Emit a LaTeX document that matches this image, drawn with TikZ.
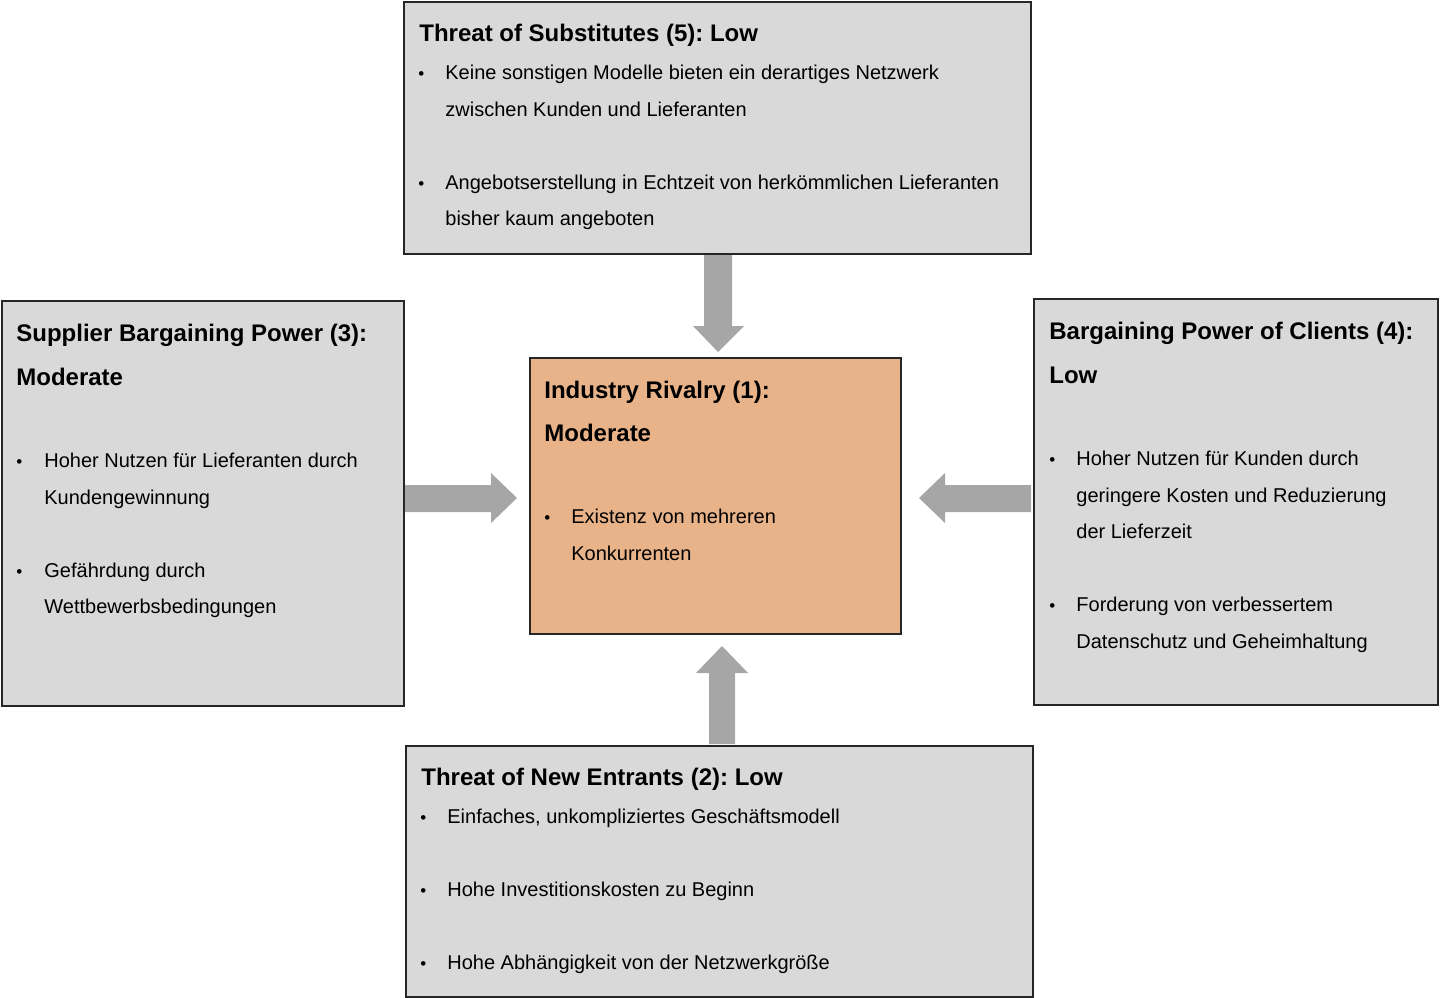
\documentclass[tikz,border=0pt]{standalone}
\usepackage{fontspec}
\setmainfont{Liberation Sans}
\frenchspacing
\definecolor{boxgray}{RGB}{217,217,217}
\definecolor{rivalry}{RGB}{233,179,138}
\definecolor{arrowgray}{RGB}{166,166,166}
\definecolor{edge}{RGB}{38,38,38}
\tikzset{
  box/.style={draw=edge, line width=1pt, fill=boxgray, anchor=north west, inner sep=0pt},
  centerbox/.style={draw=edge, line width=0.8pt, fill=rivalry, anchor=north west, inner sep=0pt},
  ttl/.style={anchor=base west, inner sep=0pt, font=\fontsize{12}{14}\selectfont\bfseries},
  body/.style={anchor=base west, inner sep=0pt, font=\fontsize{10}{12}\selectfont},
  bul/.style={anchor=base west, inner sep=0pt, font=\fontsize{8.5}{10}\selectfont},
  blockarrow/.style={fill=arrowgray, draw=none}
}
\begin{document}
\begin{tikzpicture}[x=0.5pt,y=-0.5pt]
\useasboundingbox (0,0) rectangle (1440,997);
% boxes
\node[box, minimum width=313.5pt, minimum height=126pt] (top) at (403,1) {};
\node[box, minimum width=201pt, minimum height=202.5pt] (left) at (1,300) {};
\node[box, minimum width=202pt, minimum height=203pt] (right) at (1033,298) {};
\node[box, minimum width=313.5pt, minimum height=125.5pt] (bottom) at (405,745) {};
\node[centerbox, minimum width=185.5pt, minimum height=138pt] (center) at (529,357) {};
% arrows
\path[blockarrow] (704,255) -- (732,255) -- (732,326) -- (744,326) -- (718,352) -- (693,326) -- (704,326) -- cycle;
\path[blockarrow] (405,485) -- (491,485) -- (491,473) -- (517,498) -- (491,523) -- (491,512) -- (405,512) -- cycle;
\path[blockarrow] (1031,485) -- (945,485) -- (945,473) -- (919,498) -- (945,523) -- (945,512) -- (1031,512) -- cycle;
\path[blockarrow] (709,744) -- (735,744) -- (735,673) -- (748,673) -- (722,646) -- (696,673) -- (709,673) -- cycle;
% top text
\node[ttl] (t1) at (419,41) {Threat of Substitutes (5): Low};
\node[bul] (tb1) at (418,79) {•};
\node[body] (t2) at (445,79) {Keine sonstigen Modelle bieten ein derartiges Netzwerk};
\node[body] (t3) at (445,116) {zwischen Kunden und Lieferanten};
\node[bul] (tb2) at (418,189) {•};
\node[body] (t4) at (445,189) {Angebotserstellung in Echtzeit von herkömmlichen Lieferanten};
\node[body] (t5) at (445,225) {bisher kaum angeboten};
% left text
\node[ttl] (l1) at (16,341) {Supplier Bargaining Power (3):};
\node[ttl] (l2) at (16,385) {Moderate};
\node[bul] (lb1) at (16,467) {•};
\node[body] (l3) at (44,467) {Hoher Nutzen für Lieferanten durch};
\node[body] (l4) at (44,504) {Kundengewinnung};
\node[bul] (lb2) at (16,577) {•};
\node[body] (l5) at (44,577) {Gefährdung durch};
\node[body] (l6) at (44,613) {Wettbewerbsbedingungen};
% center text
\node[ttl] (c1) at (544,398) {Industry Rivalry (1):};
\node[ttl] (c2) at (544,441) {Moderate};
\node[bul] (cb1) at (544,523) {•};
\node[body] (c3) at (571,523) {Existenz von mehreren};
\node[body] (c4) at (571,560) {Konkurrenten};
% right text
\node[ttl] (r1) at (1049,339) {Bargaining Power of Clients (4):};
\node[ttl] (r2) at (1049,383) {Low};
\node[bul] (rb1) at (1049,465) {•};
\node[body] (r3) at (1076,465) {Hoher Nutzen für Kunden durch};
\node[body] (r4) at (1076,502) {geringere Kosten und Reduzierung};
\node[body] (r5) at (1076,538) {der Lieferzeit};
\node[bul] (rb2) at (1049,611) {•};
\node[body] (r6) at (1076,611) {Forderung von verbessertem};
\node[body] (r7) at (1076,648) {Datenschutz und Geheimhaltung};
% bottom text
\node[ttl] (b1) at (421,785) {Threat of New Entrants (2): Low};
\node[bul] (bb1) at (420,823) {•};
\node[body] (b2) at (447,823) {Einfaches, unkompliziertes Geschäftsmodell};
\node[bul] (bb2) at (420,896) {•};
\node[body] (b3) at (447,896) {Hohe Investitionskosten zu Beginn};
\node[bul] (bb3) at (420,969) {•};
\node[body] (b4) at (447,969) {Hohe Abhängigkeit von der Netzwerkgröße};
\end{tikzpicture}
\end{document}
